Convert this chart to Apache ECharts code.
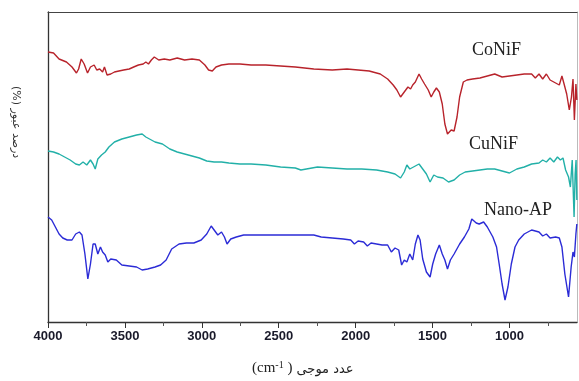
<!DOCTYPE html>
<html>
<head>
<meta charset="utf-8">
<script src="https://cdn.jsdelivr.net/npm/echarts@6/dist/echarts.min.js"></script>
<style>
  html, body { margin: 0; padding: 0; background: #fff; }
  #chart { width: 579px; height: 381px; }
</style>
</head>
<body>
<div id="chart"></div>
<script>
// wavenumber (cm-1) vs relative transmittance
const coNiF = [
  [4000, 270], [3964, 269], [3928, 263], [3880, 260], [3844, 255], [3815, 249], [3801, 253],
  [3784, 263], [3765, 258], [3743, 249], [3724, 255], [3700, 257], [3683, 252], [3664, 253],
  [3645, 250], [3633, 255], [3616, 247], [3592, 248], [3568, 250], [3539, 251], [3508, 252],
  [3472, 253], [3443, 255], [3412, 257], [3381, 258], [3364, 260], [3347, 258], [3328, 262],
  [3309, 265], [3280, 262], [3244, 263], [3208, 262], [3160, 264], [3112, 262], [3064, 263],
  [3016, 262], [2980, 257], [2956, 252], [2932, 251], [2908, 255], [2872, 257], [2824, 258],
  [2752, 258], [2680, 257], [2584, 257], [2488, 256], [2392, 255], [2272, 253], [2152, 252],
  [2056, 253], [1984, 252], [1912, 251], [1840, 248], [1792, 243], [1756, 237], [1732, 232],
  [1708, 225], [1684, 230], [1660, 235], [1643, 233], [1629, 237], [1612, 240], [1588, 248],
  [1571, 243], [1552, 238], [1528, 232], [1509, 225], [1492, 230], [1475, 234], [1456, 230],
  [1437, 218], [1420, 198], [1403, 188], [1379, 192], [1360, 191], [1341, 205], [1324, 225],
  [1300, 240], [1276, 242], [1240, 243], [1192, 244], [1144, 246], [1096, 248], [1048, 245],
  [1000, 246], [952, 247], [904, 248], [856, 248], [832, 244], [808, 248], [784, 243],
  [760, 248], [736, 242], [700, 239], [676, 237], [659, 246], [645, 238], [628, 228],
  [611, 212], [597, 225], [587, 243], [578, 202], [568, 238], [562, 222]
];

const cuNiF = [
  [4000, 171], [3964, 170], [3928, 168], [3892, 165], [3856, 162], [3820, 158], [3796, 157],
  [3772, 160], [3748, 157], [3724, 162], [3707, 158], [3693, 153], [3676, 163], [3652, 167],
  [3628, 170], [3604, 175], [3568, 180], [3520, 183], [3472, 185], [3424, 187], [3388, 188],
  [3364, 185], [3340, 183], [3304, 180], [3256, 178], [3208, 173], [3160, 170], [3112, 168],
  [3064, 166], [3016, 164], [2968, 161], [2920, 160], [2872, 160], [2824, 159], [2752, 158],
  [2680, 158], [2584, 157], [2488, 155], [2392, 154], [2356, 152], [2320, 153], [2248, 155],
  [2152, 154], [2056, 153], [1960, 153], [1864, 152], [1792, 150], [1744, 148], [1708, 144],
  [1684, 150], [1667, 157], [1648, 153], [1624, 155], [1588, 158], [1564, 153], [1540, 148],
  [1516, 140], [1492, 147], [1468, 145], [1432, 144], [1396, 140], [1360, 142], [1324, 147],
  [1288, 150], [1240, 151], [1192, 152], [1144, 153], [1096, 153], [1048, 151], [1000, 149],
  [952, 153], [904, 155], [856, 158], [808, 159], [784, 162], [760, 160], [736, 164],
  [712, 160], [688, 165], [669, 162], [652, 164], [635, 152], [616, 145], [604, 135],
  [592, 162], [580, 105], [573, 148], [567, 162], [562, 122]
];

const nanoAP = [
  [4000, 105], [3976, 102], [3952, 95], [3928, 88], [3904, 84], [3875, 82], [3844, 82],
  [3820, 88], [3796, 90], [3779, 87], [3760, 68], [3741, 43], [3724, 58], [3707, 78],
  [3693, 78], [3676, 68], [3659, 75], [3645, 70], [3628, 67], [3611, 60], [3592, 63],
  [3556, 62], [3520, 57], [3472, 56], [3424, 55], [3388, 52], [3352, 53], [3304, 55],
  [3268, 57], [3232, 62], [3196, 73], [3148, 78], [3100, 79], [3052, 79], [3004, 82],
  [2968, 88], [2939, 96], [2920, 92], [2896, 87], [2872, 90], [2853, 85], [2836, 78],
  [2812, 83], [2776, 85], [2728, 87], [2632, 87], [2512, 87], [2392, 87], [2272, 87],
  [2224, 85], [2152, 84], [2080, 83], [2032, 82], [2008, 78], [1984, 81], [1948, 80],
  [1924, 76], [1900, 79], [1864, 78], [1828, 77], [1792, 77], [1768, 70], [1744, 74],
  [1720, 72], [1701, 57], [1684, 62], [1667, 60], [1648, 68], [1629, 62], [1612, 78],
  [1595, 87], [1581, 82], [1564, 63], [1540, 50], [1516, 45], [1499, 58], [1480, 68],
  [1456, 77], [1437, 68], [1420, 62], [1403, 53], [1384, 62], [1360, 68], [1324, 78],
  [1293, 85], [1264, 93], [1245, 103], [1216, 99], [1197, 98], [1168, 100], [1144, 95],
  [1108, 85], [1084, 75], [1067, 58], [1048, 38], [1029, 22], [1010, 35], [988, 58],
  [964, 75], [940, 82], [904, 88], [856, 92], [808, 90], [784, 86], [760, 88],
  [736, 84], [700, 85], [676, 84], [659, 75], [640, 48], [616, 25], [599, 55],
  [587, 70], [578, 65], [568, 88], [562, 98]
];

const majorTicks = [4000, 3500, 3000, 2500, 2000, 1500, 1000];
const minorTicks = [3750, 3250, 2750, 2250, 1750, 1250, 750];

const chart = echarts.init(document.getElementById("chart"));

const lineSeries = (name, data, color) => ({
  name: name,
  type: "line",
  data: data,
  showSymbol: false,
  xAxisIndex: 0,
  yAxisIndex: 0,
  lineStyle: { color: color, width: 1.4 },
  silent: true,
});

const option = {
  backgroundColor: "#fff",
  animation: false,
  grid: { left: 48, right: 2, top: 12, bottom: 59 },
  xAxis: [
    {
      type: "value",
      inverse: true,
      min: 561,
      max: 4000,
      position: "bottom",
      axisLine: { show: true, lineStyle: { color: "#333", width: 1.3 } },
      axisTick: { show: true, length: 6, customValues: majorTicks, lineStyle: { color: "#333" } },
      axisLabel: {
        customValues: majorTicks,
        formatter: (v) => String(v),
        margin: 8,
        color: "#1a1a2a",
        fontFamily: "Liberation Sans",
        fontWeight: "bold",
        fontSize: 13,
      },
      splitLine: { show: false },
    },
    {
      // minor ticks on the bottom axis
      type: "value",
      inverse: true,
      min: 561,
      max: 4000,
      position: "bottom",
      axisLine: { show: false },
      axisTick: { show: true, length: 4, customValues: minorTicks, lineStyle: { color: "#555" } },
      axisLabel: { show: false },
      splitLine: { show: false },
    },
    {
      // top frame
      type: "value",
      inverse: true,
      min: 561,
      max: 4000,
      position: "top",
      axisLine: { show: true, lineStyle: { color: "#444", width: 1.2 } },
      axisTick: { show: false },
      axisLabel: { show: false },
      splitLine: { show: false },
    },
  ],
  yAxis: [
    {
      type: "value",
      min: 0,
      max: 310,
      position: "left",
      axisLine: { show: true, lineStyle: { color: "#333", width: 1.3 } },
      axisTick: { show: false },
      axisLabel: { show: false },
      splitLine: { show: false },
    },
    {
      // right frame
      type: "value",
      min: 0,
      max: 310,
      position: "right",
      axisLine: { show: true, lineStyle: { color: "#bbb", width: 1 } },
      axisTick: { show: false },
      axisLabel: { show: false },
      splitLine: { show: false },
    },
  ],
  series: [
    lineSeries("CoNiF", coNiF, "#b8232b"),
    lineSeries("CuNiF", cuNiF, "#22b0a8"),
    lineSeries("Nano-AP", nanoAP, "#2b2bd6"),
  ],
  graphic: [
    {
      type: "text",
      left: 472, top: 41,
      style: { text: "CoNiF", font: "18px 'Liberation Serif'", fill: "#222" },
    },
    {
      type: "text",
      left: 469, top: 135,
      style: { text: "CuNiF", font: "18px 'Liberation Serif'", fill: "#222" },
    },
    {
      type: "text",
      left: 484, top: 201,
      style: { text: "Nano-AP", font: "18px 'Liberation Serif'", fill: "#222" },
    },
    {
      type: "text",
      x: 21, y: 86,
      rotation: -Math.PI / 2,
      style: { text: "(%) درصد عبور", font: "11px 'DejaVu Sans'", fill: "#333" },
    },
    {
      type: "text",
      left: 252, top: 360,
      style: {
        text: "{a|(cm}{s|-1}{a| )}{b| عدد موجی}",
        rich: {
          a: { font: "15px 'Liberation Serif'", fill: "#222", verticalAlign: "bottom" },
          b: { font: "13px 'DejaVu Sans'", fill: "#222", verticalAlign: "bottom" },
          s: { font: "10px 'Liberation Serif'", fill: "#222", verticalAlign: "top", padding: [0, 0, 6, 0] },
        },
      },
    },
  ],
};

chart.setOption(option);
</script>
</body>
</html>
